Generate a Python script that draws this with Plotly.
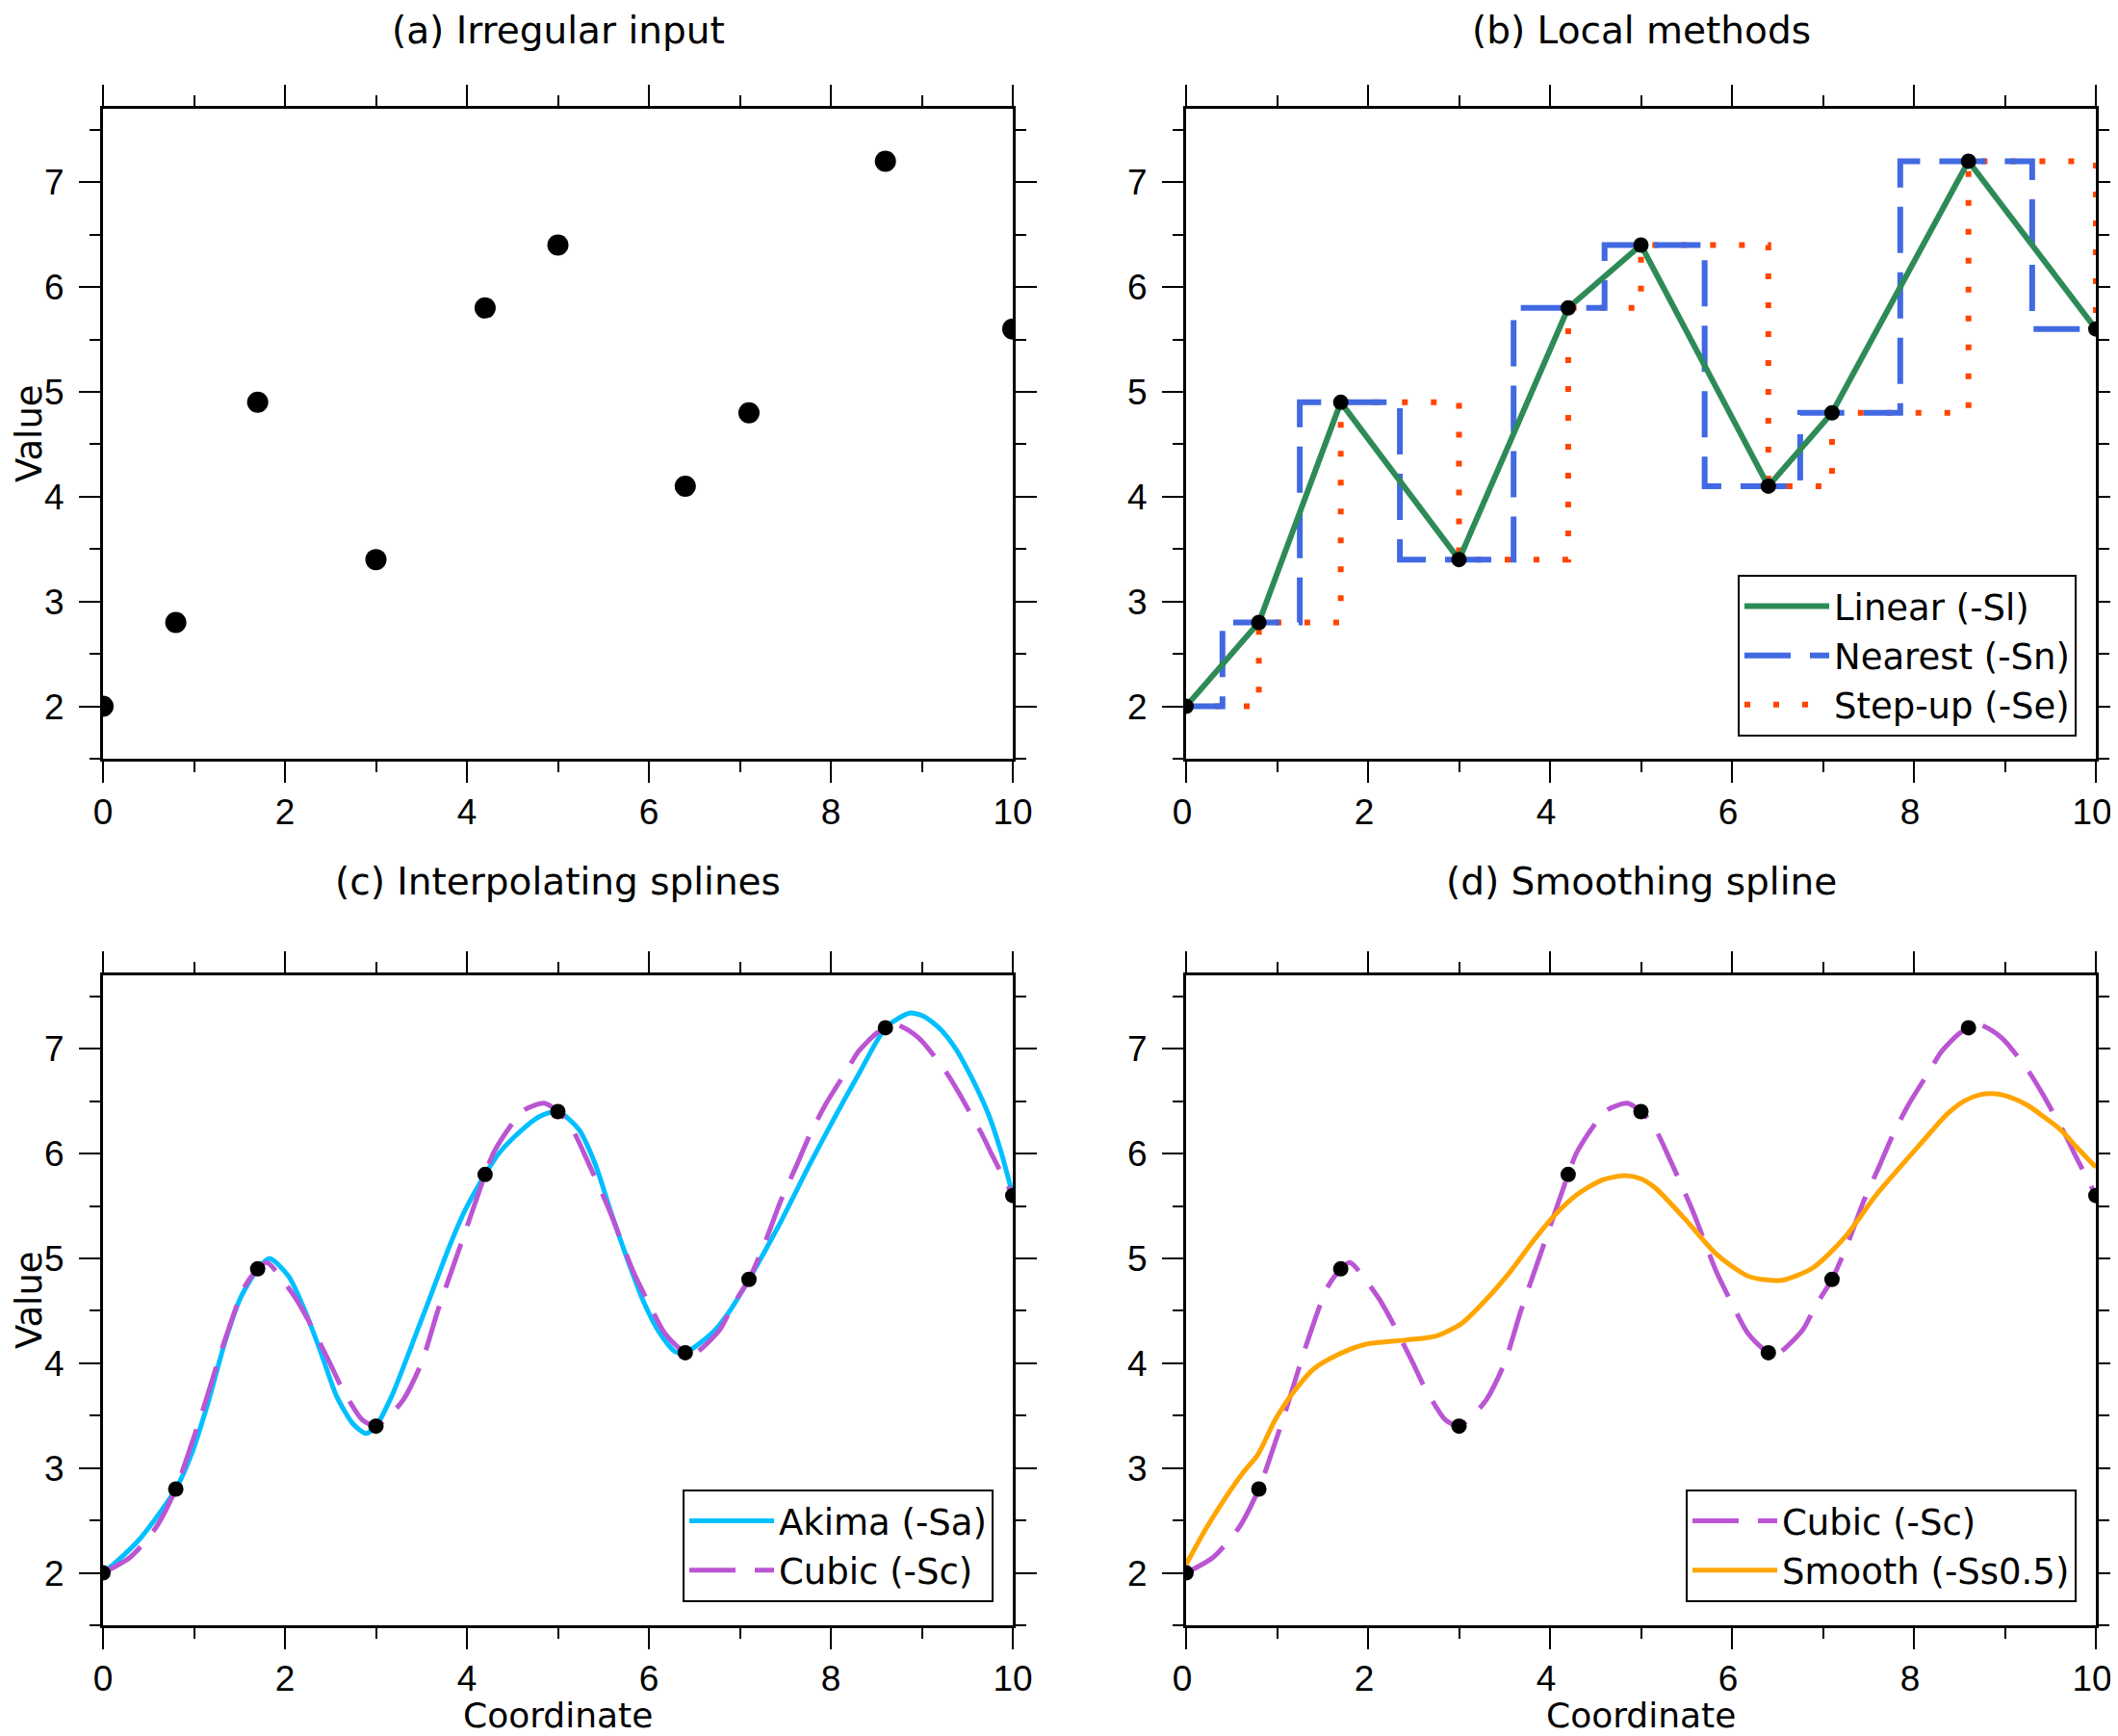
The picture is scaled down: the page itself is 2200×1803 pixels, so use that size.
import plotly.graph_objects as go

# ---------------- data ----------------
X_PTS = [0, 0.8, 1.7, 3.0, 4.2, 5.0, 6.4, 7.1, 8.6, 10.0]
Y_PTS = [2.0, 2.8, 4.9, 3.4, 5.8, 6.4, 4.1, 4.8, 7.2, 5.6]

# Akima spline
AKIMA_X = [0, 0.14, 0.42, 0.8, 0.98, 1.16, 1.34, 1.51, 1.7, 1.83, 2.04, 2.22, 2.40, 2.57, 2.75,
           2.89, 3.0, 3.17, 3.45, 3.63, 3.81, 3.98, 4.2, 4.35, 4.51, 4.79, 5.0, 5.23, 5.41, 5.58,
           5.76, 5.94, 6.11, 6.29, 6.4, 6.71, 6.89, 7.1, 7.42, 7.77, 7.965, 8.14, 8.32, 8.49,
           8.6, 8.67, 8.865, 9.02, 9.20, 9.38, 9.55, 9.73, 9.87, 10.0]
AKIMA_Y = [2.0, 2.10, 2.34, 2.8, 3.15, 3.64, 4.20, 4.62, 4.9, 5.0, 4.83, 4.50, 4.09, 3.68, 3.42,
           3.33, 3.40, 3.68, 4.30, 4.71, 5.12, 5.46, 5.8, 6.0, 6.15, 6.35, 6.4, 6.23, 5.90, 5.45,
           5.0, 4.59, 4.30, 4.11, 4.1, 4.30, 4.50, 4.8, 5.30, 5.90, 6.22, 6.50, 6.78, 7.05,
           7.2, 7.25, 7.34, 7.31, 7.19, 6.99, 6.72, 6.38, 6.02, 5.6]

# Natural cubic spline
CUBIC_X = [0, 0.3, 0.58, 0.8, 0.9, 1.1, 1.32, 1.55, 1.7, 1.8, 2.11, 2.25, 2.5, 2.61, 2.85, 3.0,
           3.15, 3.3, 3.5, 3.68, 3.96, 4.2, 4.3, 4.62, 4.85, 5.0, 5.13, 5.32, 5.57, 5.83, 6.0,
           6.18, 6.4, 6.5, 6.78, 6.92, 7.1, 7.28, 7.45, 7.62, 7.77, 7.95, 8.18, 8.30, 8.49,
           8.6, 8.72, 8.97, 9.28, 9.42, 9.67, 9.77, 10.0]
CUBIC_Y = [2.0, 2.15, 2.43, 2.8, 3.04, 3.56, 4.17, 4.72, 4.9, 4.96, 4.63, 4.42, 3.99, 3.79, 3.46, 3.4,
           3.50, 3.65, 4.0, 4.5, 5.2, 5.8, 6.02, 6.41, 6.48, 6.4, 6.28, 5.94, 5.45, 4.87, 4.57,
           4.28, 4.1, 4.09, 4.32, 4.55, 4.8, 5.16, 5.55, 5.88, 6.18, 6.48, 6.80, 6.97, 7.14,
           7.2, 7.23, 7.10, 6.76, 6.56, 6.17, 5.99, 5.6]

# Smoothing spline
SMOOTH_X = [0, 0.21, 0.42, 0.63, 0.79, 0.98, 1.16, 1.41, 1.69, 1.97, 2.40, 2.75, 3.03, 3.28, 3.56,
            3.81, 4.05, 4.30, 4.58, 4.83, 5.0, 5.16, 5.48, 5.83, 6.18, 6.54, 6.89, 7.24, 7.59, 8.02,
            8.19, 8.37, 8.55, 8.72, 8.90, 9.08, 9.25, 9.43, 9.61, 9.78, 10.0]
SMOOTH_Y = [2.08, 2.41, 2.70, 2.96, 3.13, 3.46, 3.70, 3.95, 4.09, 4.18, 4.22, 4.26, 4.38, 4.59, 4.87,
            5.16, 5.41, 5.61, 5.75, 5.79, 5.76, 5.67, 5.38, 5.04, 4.83, 4.79, 4.91, 5.20, 5.61, 6.04,
            6.21, 6.38, 6.50, 6.56, 6.57, 6.53, 6.46, 6.35, 6.23, 6.07, 5.87]

TITLES = ["(a) Irregular input", "(b) Local methods", "(c) Interpolating splines", "(d) Smoothing spline"]
X_TICKS = [0, 2, 4, 6, 8, 10]
Y_TICKS = [2, 3, 4, 5, 6, 7]

# ---------------- styling ----------------
FONT = "DejaVu Sans"
TICKFONT = "Liberation Sans"
OFF = 8                      # page body margin of the browser
W, H = 2200, 1803 - OFF

def px(p):                   # screen x (px) -> paper fraction
    return (p - OFF) / W

def py(p):                   # screen y (px) -> paper fraction
    return 1 - (p - OFF) / H

XL = [px(107), px(1052)]
XR = [px(1232), px(2177)]
YT = [py(788), py(113)]
YB = [py(1688), py(1013)]

GREEN = "#2E8B57"
BLUE = "#4169E1"
RED = "#FF4500"
CYAN = "#00BFFF"
PURPLE = "#BA55D3"
ORANGE = "#FFA500"
SMOOTHING = 0.7

fig = go.Figure()

def pts(xa, ya, size):
    return go.Scatter(x=X_PTS, y=Y_PTS, mode="markers", xaxis=xa, yaxis=ya,
                      marker=dict(color="black", size=size, line=dict(width=0)),
                      showlegend=False, hoverinfo="skip")

# (a)
fig.add_trace(pts("x", "y", 22))

# (b)
fig.add_trace(go.Scatter(x=X_PTS, y=Y_PTS, mode="lines", line_shape="hv", xaxis="x2", yaxis="y2",
                         line=dict(color=RED, width=6, dash="6px,24px"),
                         name="Step-up (-Se)", legend="legend", legendrank=3))
fig.add_trace(go.Scatter(x=X_PTS, y=Y_PTS, mode="lines", line_shape="hvh", xaxis="x2", yaxis="y2",
                         line=dict(color=BLUE, width=6, dash="48px,20px"),
                         name="Nearest (-Sn)", legend="legend", legendrank=2))
fig.add_trace(go.Scatter(x=X_PTS, y=Y_PTS, mode="lines", xaxis="x2", yaxis="y2",
                         line=dict(color=GREEN, width=6),
                         name="Linear (-Sl)", legend="legend", legendrank=1))
fig.add_trace(pts("x2", "y2", 16))

# (c)
fig.add_trace(go.Scatter(x=AKIMA_X, y=AKIMA_Y, mode="lines", line_shape="spline", xaxis="x3", yaxis="y3",
                         line=dict(color=CYAN, width=5, smoothing=SMOOTHING),
                         name="Akima (-Sa)", legend="legend2", legendrank=1))
fig.add_trace(go.Scatter(x=CUBIC_X, y=CUBIC_Y, mode="lines", line_shape="spline", xaxis="x3", yaxis="y3",
                         line=dict(color=PURPLE, width=5, dash="48px,20px", smoothing=SMOOTHING),
                         name="Cubic (-Sc)", legend="legend2", legendrank=2))
fig.add_trace(pts("x3", "y3", 16))

# (d)
fig.add_trace(go.Scatter(x=CUBIC_X, y=CUBIC_Y, mode="lines", line_shape="spline", xaxis="x4", yaxis="y4",
                         line=dict(color=PURPLE, width=5, dash="48px,20px", smoothing=SMOOTHING),
                         name="Cubic (-Sc)", legend="legend3", legendrank=1))
fig.add_trace(go.Scatter(x=SMOOTH_X, y=SMOOTH_Y, mode="lines", line_shape="spline", xaxis="x4", yaxis="y4",
                         line=dict(color=ORANGE, width=5, smoothing=SMOOTHING),
                         name="Smooth (-Ss0.5)", legend="legend3", legendrank=2))
fig.add_trace(pts("x4", "y4", 16))

tickfont = dict(family=TICKFONT, size=37, color="black")

def xaxis(domain, anchor, shift):
    return dict(domain=domain, anchor=anchor, range=[0, 10], tickvals=X_TICKS,
                ticktext=[str(v) for v in X_TICKS], ticks="outside", ticklen=22, tickwidth=2,
                tickcolor="black", showline=True, linewidth=3, linecolor="black",
                mirror="allticks", showgrid=False, zeroline=False, tickfont=tickfont,
                ticklabelstandoff=-1, ticklabelshift=shift, automargin=False,
                ticklabeloverflow="allow",
                minor=dict(dtick=1, tick0=0, ticks="outside", ticklen=11, tickwidth=2,
                           tickcolor="black", showgrid=False))

def yaxis(domain, anchor):
    return dict(domain=domain, anchor=anchor, range=[1.5, 7.7], tickvals=Y_TICKS,
                ticktext=[str(v) for v in Y_TICKS], ticks="outside", ticklen=22, tickwidth=2,
                tickcolor="black", showline=True, linewidth=3, linecolor="black",
                mirror="allticks", showgrid=False, zeroline=False, tickfont=tickfont,
                ticklabelstandoff=8, automargin=False, ticklabeloverflow="allow",
                minor=dict(dtick=0.5, tick0=0, ticks="outside", ticklen=11, tickwidth=2,
                           tickcolor="black", showgrid=False))

legfont = dict(family=FONT, size=37, color="black")

def legend(xr, yb):
    return dict(x=xr, y=yb, xanchor="right", yanchor="bottom", xref="paper", yref="paper",
                bgcolor="white", bordercolor="black", borderwidth=2, font=legfont,
                itemwidth=88, traceorder="normal", tracegroupgap=0)

titfont = dict(family=FONT, size=39, color="black")
labfont = dict(family=FONT, size=37, color="black")
coordfont = dict(family=FONT, size=36, color="black")
ann = []
centers = [(XL[0] + XL[1]) / 2, (XR[0] + XR[1]) / 2]
for i, (cx, yy) in enumerate([(centers[0], py(OFF)), (centers[1], py(OFF)),
                              (centers[0], py(892)), (centers[1], py(892))]):
    ann.append(dict(text=TITLES[i], x=cx, y=yy, yanchor="top", font=titfont))
ann.append(dict(text="Value", x=px(OFF), y=(YT[0] + YT[1]) / 2, xanchor="left", textangle=-90, font=labfont))
ann.append(dict(text="Value", x=px(OFF), y=(YB[0] + YB[1]) / 2, xanchor="left", textangle=-90, font=labfont))
ann.append(dict(text="Coordinate", x=centers[0], y=py(1803), yanchor="bottom", font=coordfont))
ann.append(dict(text="Coordinate", x=centers[1], y=py(1803), yanchor="bottom", font=coordfont))
for a in ann:
    a.setdefault("xanchor", "center")
    a.setdefault("yanchor", "middle")
    a.update(xref="paper", yref="paper", showarrow=False, borderpad=0)

fig.update_layout(
    template="none",
    width=W, height=H, margin=dict(l=0, r=0, t=0, b=0, autoexpand=False),
    paper_bgcolor="white", plot_bgcolor="white",
    font=dict(family=FONT, color="black"),
    xaxis=xaxis(XL, "y", 0), yaxis=yaxis(YT, "x"),
    xaxis2=xaxis(XR, "y2", -4), yaxis2=yaxis(YT, "x2"),
    xaxis3=xaxis(XL, "y3", 0), yaxis3=yaxis(YB, "x3"),
    xaxis4=xaxis(XR, "y4", -4), yaxis4=yaxis(YB, "x4"),
    legend=legend(px(2157), py(765)),
    legend2=legend(px(1032), py(1664)),
    legend3=legend(px(2157), py(1664)),
    annotations=ann,
    showlegend=True,
)

fig.write_html("out.html")
